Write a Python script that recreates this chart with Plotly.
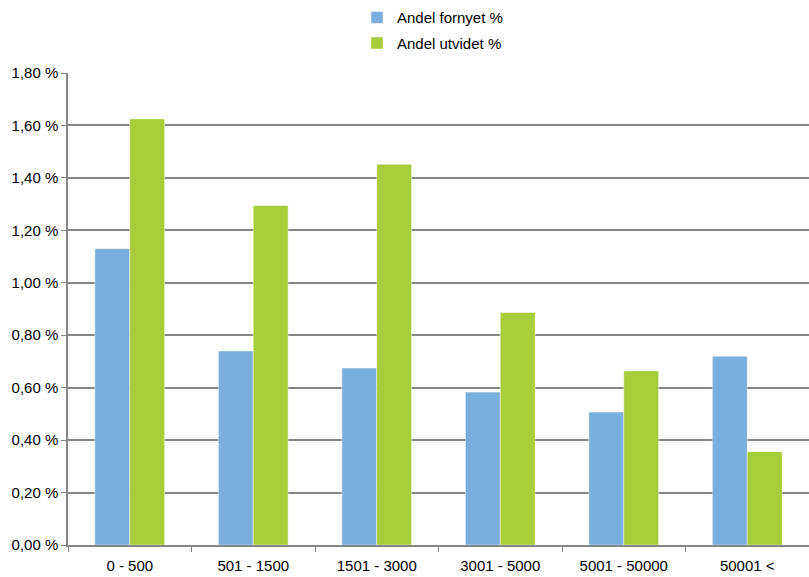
import plotly.graph_objects as go

# Størrelsesgrupper og andeler (prosent)
categories = ["0 - 500", "501 - 1500", "1501 - 3000", "3001 - 5000", "5001 - 50000", "50001 <"]
andel_fornyet = [1.13, 0.74, 0.675, 0.583, 0.507, 0.72]
andel_utvidet = [1.625, 1.295, 1.452, 0.887, 0.664, 0.356]
y_ticks = [0.0, 0.2, 0.4, 0.6, 0.8, 1.0, 1.2, 1.4, 1.6, 1.8]
y_tick_text = [f"{v:.2f} %".replace(".", ",") for v in y_ticks]

font_family = "Liberation Sans, Arial, sans-serif"

fig = go.Figure()
fig.add_trace(go.Bar(
    name="Andel fornyet %", x=categories, y=andel_fornyet, legendgroup="f",
    marker=dict(color="#7AAEDC", line=dict(color="rgba(255,255,255,0.45)", width=1)),
))
fig.add_trace(go.Bar(
    name="Andel utvidet %", x=categories, y=andel_utvidet, legendgroup="u",
    marker=dict(color="#A7CD3A", line=dict(color="rgba(255,255,255,0.45)", width=1)),
))

fig.update_layout(
    width=809, height=577,
    margin=dict(l=68, r=0, t=73, b=32),
    paper_bgcolor="white", plot_bgcolor="white",
    font=dict(family=font_family, size=15, color="#000000"),
    barmode="group", bargap=0.435, bargroupgap=0,
    showlegend=True,
    legend=dict(
        x=0.39, y=1.152, xanchor="left", yanchor="top",
        orientation="v", font=dict(size=15), itemwidth=30,
        tracegroupgap=3, bgcolor="rgba(0,0,0,0)",
    ),
    xaxis=dict(
        type="category", range=[-0.5, 5.5],
        showline=True, linecolor="#868686", linewidth=1.5,
        ticks="outside", tickson="boundaries", ticklen=5, tickcolor="#868686",
        showgrid=False, tickfont=dict(size=15), ticklabelstandoff=6,
    ),
    yaxis=dict(
        range=[0, 1.8], tickvals=y_ticks, ticktext=y_tick_text,
        showline=True, linecolor="#868686", linewidth=1.5,
        ticks="outside", ticklen=5, tickcolor="#868686",
        showgrid=True, gridcolor="#868686", gridwidth=1.5,
        zeroline=False, tickfont=dict(size=15),
    ),
)

fig.write_html("out.html")
